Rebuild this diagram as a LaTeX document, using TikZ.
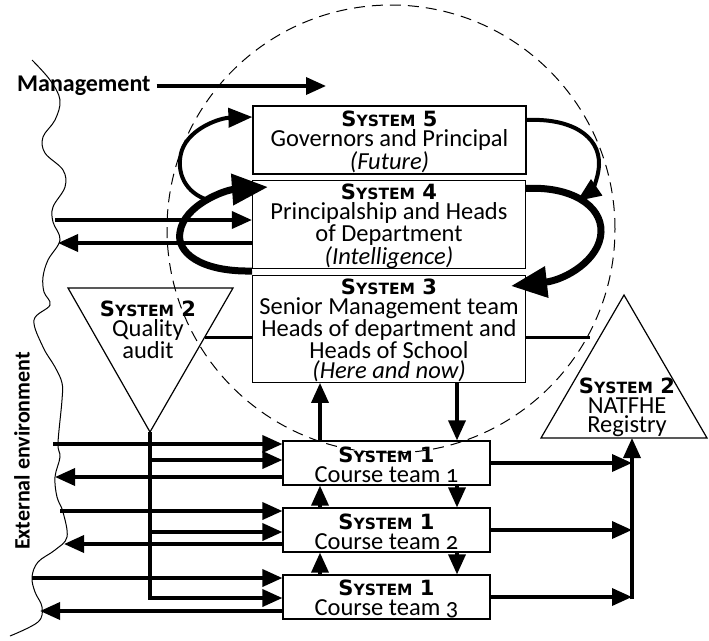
\documentclass[tikz,border=0pt]{standalone}
\usepackage{fontspec}
\setmainfont{Carlito}
\newfontfamily\oldfigs[Numbers=OldStyle]{Carlito}
\newfontfamily\sysfont{DejaVu Sans}
\usetikzlibrary{arrows.meta}

% bold small-capital system label
\newcommand{\sysname}[1]{\rule{0pt}{19pt}{\sysfont\bfseries\fontsize{21}{21}\selectfont S{\fontsize{15.5}{15.5}\selectfont YSTEM} #1}}

\begin{document}
\begin{tikzpicture}[x=1pt, y=-1pt,
  box/.style={draw, line width=1.2pt, minimum width=273pt, inner sep=0pt, align=center, font=\fontsize{24.5}{20}\selectfont},
  teambox/.style={box, minimum width=207pt, minimum height=44pt},
  flow/.style={line width=3.5pt, -{Triangle[length=20pt,width=17pt]}},
  link/.style={line width=3pt},
  thinloop/.style={line width=4pt, -{Triangle[length=24pt,width=19pt]}},
  thickloop/.style={line width=7pt, -{Triangle[length=36pt,width=30pt]}},
  label/.style={align=center, font=\fontsize{24.5}{19.5}\selectfont}]
  \useasboundingbox (0,0) rectangle (709,640);

  % dashed boundary of the management core
  \draw[line width=1pt, dash pattern=on 11pt off 7pt] (391,229) circle (224pt);

  % external environment edge
  \draw[line width=1pt] plot[smooth, tension=0.6] coordinates {(32,60) (50,80) (60,100) (55,120) (43,137) (45,153) (63,170) (65,187) (53,207) (53,222) (60,240) (48,260) (43,277) (44,292) (50,305) (34,320) (43,347) (55,367) (62,383) (62,400) (58,443) (60,457) (55,477) (57,497) (63,512) (67,537) (55,550) (38,562) (32,577) (35,592) (42,607) (38,622) (10,636)};
  \node[rotate=90, font=\fontsize{22}{22}\selectfont\bfseries] (env) at (22,451) {External environment};

  % management
  \node[font=\fontsize{24}{24}\selectfont\bfseries, anchor=west, inner sep=0pt] (mgmt) at (17,86) {Management};
  \coordinate (mgmtend) at (326,86);
  \draw[flow] ([xshift=6pt]mgmt.east) -- (mgmtend);

  % systems 5, 4 and 3
  \node[box, minimum height=68pt] (s5) at (389.5,140) {\sysname{5}\\Governors and Principal\\\textit{(Future)}};
  \node[box, minimum height=87pt] (s4) at (389,224.5) {\sysname{4}\\Principalship and Heads\\of Department\\\textit{(Intelligence)}};
  \node[box, minimum height=106pt] (s3) at (389,329) {\sysname{3}\\Senior Management team\\Heads of department and\\Heads of School\\\textit{(Here and now)}};

  % system 1 course teams
  \node[teambox] (b1) at (386.5,463) {\sysname{1}\\Course team {\oldfigs 1}};
  \node[teambox] (b2) at (386.5,530) {\sysname{1}\\Course team {\oldfigs 2}};
  \node[teambox] (b3) at (386.5,597) {\sysname{1}\\Course team {\oldfigs 3}};

  % system 2 triangles
  \coordinate (qa) at (150,432);
  \coordinate (qedge) at (205,337);
  \draw[line width=1.2pt] (68,288) -- (233,288) -- (qa) -- cycle;
  \node[label] (qtext) at (148,328) {\sysname{2}\\Quality\\audit};
  \coordinate (nb) at (632,438);
  \coordinate (nedge) at (590,337);
  \draw[line width=1.2pt] (541,438) -- (707,438) -- (624,295) -- cycle;
  \node[label] (ntext) at (627,406) {\sysname{2}\\NATFHE\\Registry};

  % audit and registry links to system 3
  \draw[link] (qedge) -- (qedge -| s3.west);
  \draw[link] (s3.east |- nedge) -- (nedge);

  % loops between systems 3, 4 and 5
  \draw[thickloop] (252,271) .. controls (200,272) and (176,252) .. (180,232) .. controls (184,205) and (225,190) .. (268,187);
  \draw[thinloop] (205,199) .. controls (182,190) and (176,168) .. (182,150) .. controls (190,128) and (220,118) .. ([yshift=23pt]s5.west);
  \draw[thinloop] ([yshift=20pt]s5.east) .. controls (570,118) and (600,135) .. (599,165) .. controls (598,182) and (590,192) .. (577,201);
  \draw[thickloop] ([yshift=36pt]s4.east) .. controls (570,186) and (602,205) .. (601,232) .. controls (600,260) and (565,280) .. (511,286);

  % system 4 and the environment
  \coordinate (e4in) at (55,220);
  \coordinate (e4out) at (58,243);
  \draw[flow] (e4in) -- (e4in -| s4.west);
  \draw[flow] (s4.west |- e4out) -- (e4out);

  % system 3 and course team 1
  \coordinate (upx) at (320,0);
  \coordinate (downx) at (457,0);
  \draw[flow] (b1.north -| upx) -- (s3.south -| upx);
  \draw[flow] (s3.south -| downx) -- (b1.north -| downx);
  \draw[flow] (b2.north -| upx) -- (b1.south -| upx);
  \draw[flow] (b1.south -| downx) -- (b2.north -| downx);
  \draw[flow] (b3.north -| upx) -- (b2.south -| upx);
  \draw[flow] (b2.south -| downx) -- (b3.north -| downx);

  % environment and course teams
  \coordinate (e1in) at (53,444);
  \coordinate (e1out) at (55,477);
  \coordinate (e2in) at (60,511);
  \coordinate (e2out) at (64,544);
  \coordinate (e3in) at (32,578);
  \coordinate (e3out) at (40,611);
  \draw[flow] (e1in) -- (e1in -| b1.west);
  \draw[flow] (b1.west |- e1out) -- (e1out);
  \draw[flow] (e2in) -- (e2in -| b2.west);
  \draw[flow] (b2.west |- e2out) -- (e2out);
  \draw[flow] (e3in) -- (e3in -| b3.west);
  \draw[flow] (b3.west |- e3out) -- (e3out);

  % quality audit to the course teams
  \coordinate (q1) at (150,460);
  \coordinate (q2) at (150,532);
  \draw[flow] (qa) |- ([yshift=-1pt]b3.west);
  \draw[flow] (q1) -- (q1 -| b1.west);
  \draw[flow] (q2) -- (q2 -| b2.west);

  % course teams to the registry
  \coordinate (nbot) at (632,599);
  \draw[flow] (b1.east) -- (b1.east -| nb);
  \draw[flow] (b2.east) -- (b2.east -| nb);
  \draw[flow] (b3.east) -- (b3.east -| nb);
  \draw[flow] (nbot) -- (nb);
\end{tikzpicture}
\end{document}
